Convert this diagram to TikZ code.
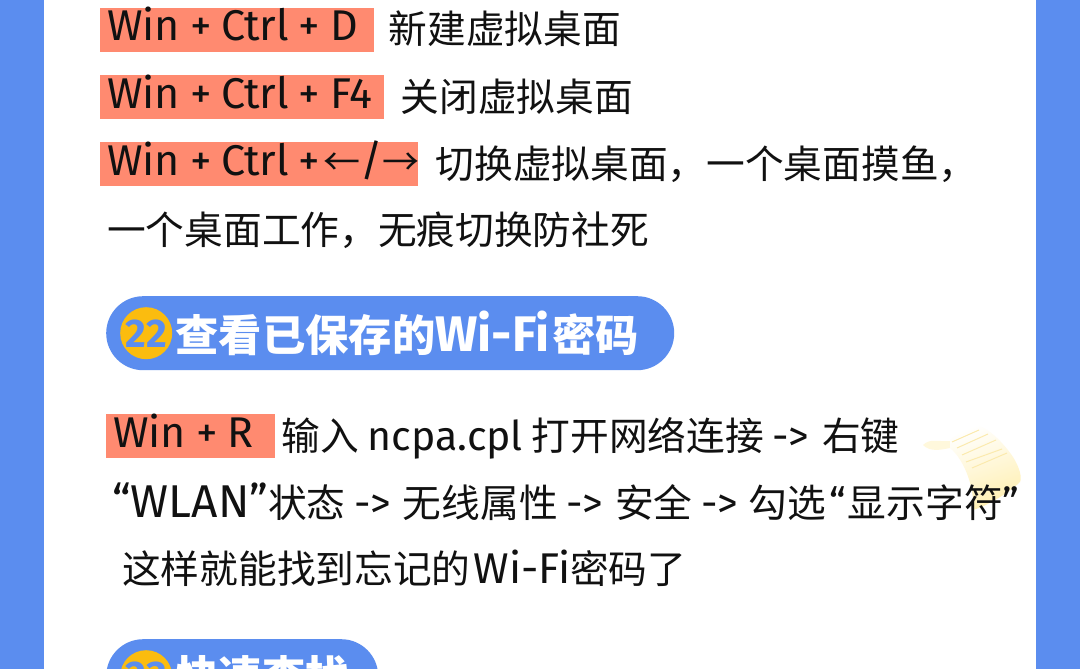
\documentclass[tikz,border=0pt]{standalone}
\usepackage{fontspec}
\setmainfont{Fira Sans}
\newfontfamily\cjk{Noto Sans CJK SC}
\newfontfamily\latn{Fira Sans}
\newcommand{\wfont}[1]{{\latn\fontsize{41}{41}\selectfont #1}}
\newcommand{\wlan}[1]{{\latn\fontsize{46}{46}\selectfont #1}}
\newcommand{\karrow}[1]{{\cjk\fontsize{37}{37}\selectfont #1}}
\newcommand{\tgap}{\hspace{10pt}}
\usetikzlibrary{positioning}
\definecolor{sideblue}{HTML}{5B8DEF}
\definecolor{keyred}{HTML}{FF8A70}
\definecolor{badgeyellow}{HTML}{FBBC0F}
\definecolor{inkblack}{HTML}{111111}
\definecolor{paperyellow}{HTML}{FFEFB0}
\definecolor{paperline}{HTML}{FBEAAE}
\tikzset{
    keybox/.style={fill=keyred, text=inkblack, anchor=west, inner xsep=7pt, inner ysep=0pt,
        minimum height=44pt, text width=#1, text height=30pt, text depth=8pt, align=left,
        font=\fontsize{43}{43}\selectfont},
    desc/.style={text=inkblack, inner sep=0pt, anchor=west, text height=34pt, text depth=6pt,
        font=\fontsize{38.7}{38.7}\selectfont\cjk},
    pill/.style={fill=sideblue, rounded corners=37pt, minimum height=74pt, minimum width=#1,
        anchor=north west, inner sep=0pt},
    badge/.style={circle, fill=badgeyellow, minimum size=52pt, inner sep=0pt,
        text=sideblue, font=\fontsize{40}{40}\selectfont\bfseries},
    title/.style={text=white, inner sep=0pt, font=\fontsize{43.3}{43.3}\selectfont\cjk\bfseries}
}
\begin{document}
\begin{tikzpicture}[x=1pt, y=-1pt]
    \clip (0,0) rectangle (1080,669);
    \fill[white] (0,0) rectangle (1080,669);
    \fill[sideblue] (0,0) rectangle (44,669);
    \fill[sideblue] (1036,0) rectangle (1080,669);
    % paper behind the last line
    \fill[paperyellow!45] (923,445) .. controls (930,438) and (938,442) .. (950,441)
        -- (950,448) .. controls (940,450) and (930,452) .. (923,445) -- cycle;
    \shade[left color=white, right color=paperyellow, shading angle=20]
        (950,440) .. controls (958,434) and (964,428) .. (970,425)
        .. controls (985,422) and (1005,445) .. (1013,457)
        .. controls (1020,468) and (1022,478) .. (1020,482)
        .. controls (1012,490) and (990,505) .. (973,510)
        .. controls (975,490) and (965,460) .. (950,448) -- cycle;
    \draw[paperline, line width=1pt] (952,442) -- (979,430) (957,448) -- (988,434)
        (962,455) -- (996,440) (966,462) -- (1002,449) (972,468) -- (1007,453);

    \node[keybox=260pt] (key1) at (100,30) {Win\tgap+\tgap Ctrl\tgap+\tgap D};
    \node[keybox=270pt] (key2) at (100,97) {Win\tgap+\tgap Ctrl\tgap+\tgap F4};
    \node[keybox=304pt] (key3) at (100,164) {\mbox{Win\tgap+\tgap Ctrl\tgap+\hspace{3pt}\karrow{←}/\karrow{→}}};
    \node[desc, right=14pt of key1] (desc1) {新建虚拟桌面};
    \node[desc, right=16pt of key2] (desc2) {关闭虚拟桌面};
    \node[desc, right=17pt of key3] (desc3) {切换虚拟桌面，一个桌面摸鱼，};
    \node[desc] (desc4) at (107,230) {一个桌面工作，无痕切换防社死};

    \node[pill=568pt] (pill22) at (106,296) {};
    \node[badge, right=14pt of pill22.west] (badge22) {22};
    \node[title, right=3pt of badge22] (title22) {查看已保存的{\latn\bfseries\fontsize{50}{50}\selectfont Wi-Fi}\hspace{3pt}密码};

    \node[keybox=155pt] (key4) at (106,436) {Win\tgap+\tgap R};
    \node[desc, right=6pt of key4] (desc5) {输入 \wfont{ncpa.cpl} 打开网络连接 \wfont{->}\hspace{4pt} 右键};
    \node[desc] (desc6) at (112,503) {\wlan{“WLAN”}状态 \wfont{->}\hspace{3pt} 无线属性 \wfont{->}\hspace{3pt} 安全 \wfont{->}\hspace{2pt} 勾选\hspace{3pt}\wfont{“}\hspace{2pt}显示字符\wfont{”}};
    \node[desc] (desc7) at (122,569) {这样就能找到忘记的\hspace{3pt}{\latn\fontsize{43}{43}\selectfont Wi-Fi}密码了};

    \node[pill=272pt] (pill23) at (106,639) {};
    \node[badge, right=14pt of pill23.west] (badge23) {23};
    \node[title, right=3pt of badge23] (title23) {快速查找};
\end{tikzpicture}
\end{document}
